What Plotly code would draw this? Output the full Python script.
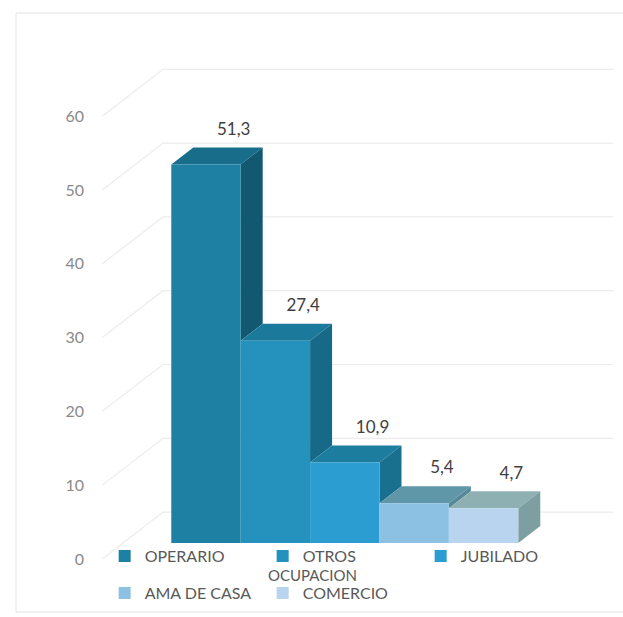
import plotly.graph_objects as go

# --- data -----------------------------------------------------------------
categorias = ["OPERARIO", "OTROS", "JUBILADO", "AMA DE CASA", "COMERCIO"]
porcentajes = [51.3, 27.4, 10.9, 5.4, 4.7]
marcas_y = [0, 10, 20, 30, 40, 50, 60]

# --- styling --------------------------------------------------------------
color_frente = ["#1e80a3", "#2591bd", "#2b9dd0", "#8cc1e4", "#b9d4ee"]
color_tapa = ["#186d8a", "#1b7a9c", "#1d7d9f", "#5f97a8", "#8fb0b3"]
color_lado = ["#125870", "#166a88", "#186f8e", "#55899a", "#7d9fa2"]
color_rejilla = "#ececec"
fuente = "Lato"

# oblique projection: offset (in data units) of one bar depth
DX, DY = 0.317, 2.30
Z_PARED_FRENTE, Z_PARED_FONDO = -0.94, 1.82
X_PARED_IZQ, X_PARED_DER = -1.196, 5.29

X_RANGO = [-2.968, 6.009]
Y_RANGO = [-10.03, 73.58]
DESFASE_EJE = -Z_PARED_FRENTE * DY  # tick labels sit on the front edge of the wall


def proyectar(x, v, z):
    return x + z * DX, v + z * DY


def ruta(puntos):
    return "M " + " L ".join(f"{px:.4f},{py:.4f}" for px, py in puntos) + " Z"


fig = go.Figure()

# front faces of the columns
for i, (cat, val) in enumerate(zip(categorias, porcentajes)):
    fig.add_trace(go.Bar(
        x=[i], y=[val], width=1, name=cat,
        marker=dict(color=color_frente[i], line=dict(width=0)),
        legend="legend" if i < 3 else "legend2",
        hoverinfo="name+y",
    ))

# value labels above each column top
fig.add_trace(go.Scatter(
    x=[i + 0.4 for i in range(len(porcentajes))],
    y=[v + DY + 2.3 for v in porcentajes],
    text=[f"{v:.1f}".replace(".", ",") for v in porcentajes],
    mode="text",
    textfont=dict(family=fuente, size=17, color="#404040"),
    showlegend=False, hoverinfo="skip", cliponaxis=False,
))

# carrier for the value axis drawn on the wall edge
fig.add_trace(go.Scatter(x=[None], y=[None], yaxis="y2", showlegend=False, hoverinfo="skip"))

formas = []

# wall gridlines: diagonal on the side wall, then across the back wall
for t in marcas_y:
    a = proyectar(X_PARED_IZQ, t, Z_PARED_FRENTE)
    b = proyectar(X_PARED_IZQ, t, Z_PARED_FONDO)
    c = proyectar(X_PARED_DER, t, Z_PARED_FONDO)
    formas.append(dict(type="path", xref="x", yref="y", layer="below",
                       path=f"M {a[0]},{a[1]} L {b[0]},{b[1]} L {c[0]},{c[1]}",
                       line=dict(color=color_rejilla, width=1.2)))

# top and right-side faces of each column
for i, val in enumerate(porcentajes):
    izq, der = i - 0.5, i + 0.5
    tapa = [proyectar(izq, val, 0), proyectar(der, val, 0),
            proyectar(der, val, 1), proyectar(izq, val, 1)]
    formas.append(dict(type="path", xref="x", yref="y", layer="below",
                       path=ruta(tapa), fillcolor=color_tapa[i],
                       line=dict(width=0)))
    base = min(porcentajes[i + 1], val) if i + 1 < len(porcentajes) else 0
    lado = [proyectar(der, base, 0), proyectar(der, val, 0),
            proyectar(der, val, 1), proyectar(der, base, 1)]
    formas.append(dict(type="path", xref="x", yref="y", layer="below",
                       path=ruta(lado), fillcolor=color_lado[i],
                       line=dict(width=0)))

# chart frame
formas.append(dict(type="rect", xref="paper", yref="paper", layer="below",
                   x0=16 / 623, x1=1.03, y0=1 - 612 / 617, y1=1 - 13 / 617,
                   line=dict(color="#e3e3e3", width=1)))

leyenda = dict(orientation="h", xanchor="left", yanchor="middle",
               entrywidth=113, bgcolor="rgba(0,0,0,0)", borderwidth=0,
               font=dict(family=fuente, size=16, color="#595959"))

fig.update_layout(
    width=623, height=617,
    margin=dict(l=0, r=0, t=0, b=0, autoexpand=False),
    paper_bgcolor="white", plot_bgcolor="white",
    barmode="overlay",
    shapes=formas,
    xaxis=dict(range=X_RANGO, visible=False, fixedrange=True),
    yaxis=dict(range=Y_RANGO, visible=False, fixedrange=True),
    yaxis2=dict(range=[Y_RANGO[0] + DESFASE_EJE, Y_RANGO[1] + DESFASE_EJE],
                overlaying="y", anchor="free", position=0.135, side="left",
                tickvals=marcas_y, ticks="", showgrid=False, zeroline=False,
                showline=False, fixedrange=True,
                tickfont=dict(family=fuente, size=16, color="#8a8a8a")),
    legend=dict(leyenda, x=0.168, y=1 - 556 / 617),
    legend2=dict(leyenda, x=0.168, y=1 - 593 / 617),
    annotations=[dict(text="OCUPACION", xref="paper", yref="paper",
                      x=312 / 623, y=1 - 575 / 617, showarrow=False,
                      xanchor="center", yanchor="middle",
                      font=dict(family=fuente, size=15, color="#595959"))],
    showlegend=True,
)

fig.write_html("out.html")
